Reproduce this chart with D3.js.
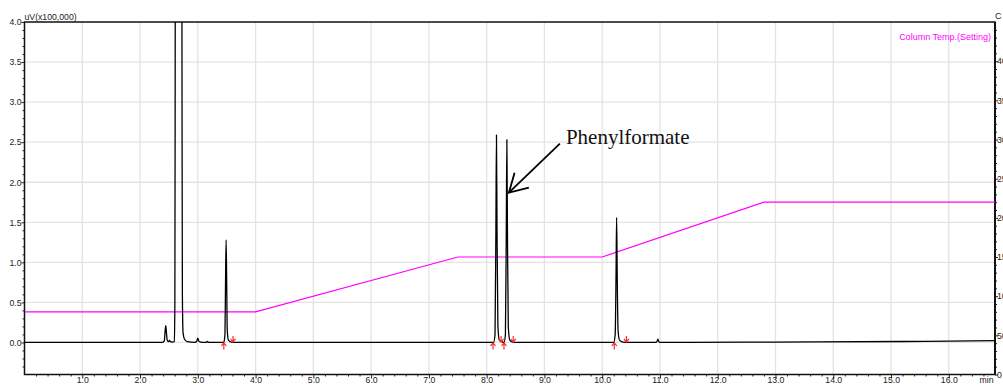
<!DOCTYPE html>
<html>
<head>
<meta charset="utf-8">
<script src="https://cdn.jsdelivr.net/npm/d3@7/dist/d3.min.js"></script>
<style>
  html, body { margin: 0; padding: 0; background: #fff; }
  svg { display: block; font-family: "Liberation Sans", Arial, sans-serif; }
</style>
</head>
<body>
<svg id="chart" width="1003" height="385"></svg>
<script>
// Detector trace: retention time (min) and signal (uV x100,000)
const traceTime = [
  0.00, 1.30, 2.38, 2.42, 2.435, 2.445, 2.455, 2.47, 2.49, 2.51, 2.525, 2.55,
  2.595, 2.603, 2.608, 2.612, 2.67, 2.722, 2.727, 2.733, 2.745, 2.77, 2.82,
  2.95, 2.985, 3.00, 3.015, 3.05, 3.14, 3.165, 3.19,
  3.45, 3.47, 3.48, 3.49, 3.50, 3.51, 3.53, 3.58, 3.65,
  8.12, 8.145, 8.16, 8.17, 8.18, 8.195, 8.22, 8.26,
  8.30, 8.325, 8.34, 8.35, 8.36, 8.375, 8.40, 8.45, 8.55,
  10.20, 10.225, 10.24, 10.25, 10.26, 10.275, 10.30, 10.36, 10.45,
  10.93, 10.95, 10.965, 10.98, 11.00, 11.50, 13.00, 15.20, 16.80
];
const traceSignal = [
  0.000, 0.000, 0.000, 0.020, 0.150, 0.210, 0.140, 0.030, 0.010, 0.025, 0.010, 0.005,
  0.010, 0.500, 3.000, 6.000, 9.000, 6.000, 3.000, 0.600, 0.120, 0.040, 0.010,
  0.000, 0.020, 0.055, 0.020, 0.005, 0.000, 0.012, 0.000,
  0.000, 0.100, 0.750, 1.280, 0.750, 0.150, 0.030, 0.005, 0.000,
  0.000, 0.100, 1.400, 2.590, 1.400, 0.200, 0.030, 0.010,
  0.000, 0.100, 1.400, 2.530, 1.400, 0.200, 0.030, 0.005, 0.000,
  0.000, 0.100, 0.850, 1.560, 0.850, 0.150, 0.030, 0.005, 0.000,
  0.000, 0.015, 0.040, 0.012, 0.000, 0.000, 0.005, 0.012, 0.022
];

// Integration marks (peak start / peak end), min
const peakStarts = [3.45, 8.11, 8.30, 10.21];
const peakEnds = [3.61, 8.25, 8.46, 10.42];

// Column temperature program (setting), deg C
const tempTime = [0.0, 4.0, 7.5, 10.0, 12.8, 16.8];
const tempValue = [80, 80, 150, 150, 220, 220];

// Axis ticks
const timeTicks = [1, 2, 3, 4, 5, 6, 7, 8, 9, 10, 11, 12, 13, 14, 15, 16];
const timeTickLabels = ["1.0", "2.0", "3.0", "4.0", "5.0", "6.0", "7.0", "8.0",
  "9.0", "10.0", "11.0", "12.0", "13.0", "14.0", "15.0", "16.0"];
const signalTicks = [0, 0.5, 1, 1.5, 2, 2.5, 3, 3.5, 4];
const signalTickLabels = ["0.0", "0.5", "1.0", "1.5", "2.0", "2.5", "3.0", "3.5", "4.0"];
const tempTicks = [0, 50, 100, 150, 200, 250, 300, 350, 400];
const tempTickLabels = ["0", "50", "100", "150", "200", "250", "300", "350", "400"];

// Labelled compound
const annotation = { name: "Phenylformate", time: 8.385, signal: 1.87 };

const svg = d3.select("#chart");
const plotLeft = 24.5, plotRight = 995, plotTop = 22, plotBottom = 374.5;

const x = d3.scaleLinear().domain([0, 16.8]).range([plotLeft, plotRight]);
const y = d3.scaleLinear().domain([-0.4, 4.0]).range([plotBottom, plotTop]);
const yT = d3.scaleLinear().domain([0, 450]).range([plotBottom, plotTop]);

svg.append("rect").attr("width", 1003).attr("height", 385).attr("fill", "#fff");

svg.append("defs").append("clipPath").attr("id", "plotClip")
  .append("rect").attr("x", plotLeft).attr("y", plotTop)
  .attr("width", plotRight - plotLeft).attr("height", plotBottom - plotTop);

// Grid
const grid = svg.append("g").attr("stroke", "#e3e3e3").attr("stroke-width", 1.3);
grid.selectAll("line.v").data(timeTicks).join("line")
  .attr("x1", d => x(d)).attr("x2", d => x(d))
  .attr("y1", plotTop).attr("y2", plotBottom);
grid.selectAll("line.h").data(signalTicks.filter(d => d < 4)).join("line")
  .attr("x1", plotLeft).attr("x2", plotRight)
  .attr("y1", d => y(d)).attr("y2", d => y(d));

// Axes
const fontSize = "8.7px";
const styleLabels = g => g.selectAll("text").attr("font-size", fontSize).attr("fill", "#222")
  .style("font-family", "'Liberation Sans', Arial, sans-serif");

const minorTime = d3.range(1, 84).map(i => i * 0.2).filter(t => Math.abs(t - Math.round(t)) > 0.01);
svg.append("g").attr("transform", `translate(0,${plotBottom})`)
  .call(d3.axisBottom(x).tickValues(minorTime).tickSize(2).tickFormat(""))
  .call(g => g.select(".domain").remove());
svg.append("g").attr("transform", `translate(0,${plotBottom})`)
  .call(d3.axisBottom(x).tickValues(timeTicks).tickSize(4).tickPadding(-1.5)
    .tickFormat((d, i) => timeTickLabels[i]))
  .call(g => g.select(".domain").remove())
  .call(styleLabels);

const minorSig = d3.range(-3, 40).map(i => i / 10).filter(v => Math.abs(v * 2 - Math.round(v * 2)) > 0.01);
svg.append("g").attr("transform", `translate(${plotLeft},0)`)
  .call(d3.axisLeft(y).tickValues(minorSig).tickSize(2).tickFormat(""))
  .call(g => g.select(".domain").remove());
svg.append("g").attr("transform", `translate(${plotLeft},0)`)
  .call(d3.axisLeft(y).tickValues(signalTicks).tickSize(3).tickPadding(0)
    .tickFormat((d, i) => signalTickLabels[i]))
  .call(g => g.select(".domain").remove())
  .call(styleLabels);

const minorTemp = d3.range(10, 450, 10).filter(v => v % 50 !== 0);
svg.append("g").attr("transform", `translate(${plotRight},0)`)
  .call(d3.axisRight(yT).tickValues(minorTemp).tickSize(2).tickFormat(""))
  .call(g => g.select(".domain").remove());
svg.append("g").attr("transform", `translate(${plotRight},0)`)
  .call(d3.axisRight(yT).tickValues(tempTicks).tickSize(3).tickPadding(-1)
    .tickFormat((d, i) => tempTickLabels[i]))
  .call(g => g.select(".domain").remove())
  .call(styleLabels);

svg.selectAll(".tick line").attr("stroke", "#222");

// Frame
svg.append("path")
  .attr("d", `M${plotLeft},${plotTop}H${plotRight}V${plotBottom}H${plotLeft}Z`)
  .attr("fill", "none").attr("stroke", "#111").attr("stroke-width", 1.5);
svg.append("line").attr("x1", plotRight).attr("x2", plotRight)
  .attr("y1", plotTop).attr("y2", plotBottom)
  .attr("stroke", "#111").attr("stroke-width", 2);

// Axis titles
svg.append("text").attr("x", plotLeft).attr("y", 19.5).attr("font-size", fontSize)
  .attr("fill", "#222").text("uV(x100,000)");
svg.append("text").attr("x", 993.5).attr("y", 383).attr("font-size", fontSize)
  .attr("text-anchor", "end").attr("fill", "#222").text("min");
svg.append("text").attr("x", 995).attr("y", 19).attr("font-size", "9px")
  .attr("fill", "#222").text("C");

const plot = svg.append("g").attr("clip-path", "url(#plotClip)");

// Temperature program
plot.append("path")
  .datum(tempTime.map((t, i) => [t, tempValue[i]]))
  .attr("fill", "none").attr("stroke", "#ff00ff").attr("stroke-width", 1.2)
  .attr("d", d3.line().x(d => x(d[0])).y(d => yT(d[1])));

svg.append("text").attr("x", 991).attr("y", 39.5).attr("font-size", "9px")
  .attr("text-anchor", "end").attr("fill", "#ff00ff").text("Column Temp.(Setting)");

// Chromatogram
plot.append("path")
  .datum(traceTime.map((t, i) => [t, traceSignal[i]]))
  .attr("fill", "none").attr("stroke", "#000").attr("stroke-width", 1.3)
  .attr("stroke-linejoin", "round")
  .attr("d", d3.line().x(d => x(d[0])).y(d => y(d[1])).curve(d3.curveMonotoneX));

// Integration marks
const red = "#ff2a2a";
const y0 = y(0);
const marks = svg.append("g").attr("stroke", red).attr("stroke-width", 1.2).attr("fill", "none");
peakStarts.forEach(t => {
  const cx = x(t);
  marks.append("path").attr("d",
    `M${cx},${y0 + 0.5}V${y0 + 7}M${cx - 2.5},${y0 + 3.5}L${cx},${y0 + 0.5}L${cx + 2.5},${y0 + 3.5}`);
});
peakEnds.forEach(t => {
  const cx = x(t);
  marks.append("path").attr("d",
    `M${cx},${y0 - 0.5}V${y0 - 6.5}M${cx - 2.5},${y0 - 3.5}L${cx},${y0 - 0.5}L${cx + 2.5},${y0 - 3.5}`);
});

// Compound annotation
const tipX = x(annotation.time), tipY = y(annotation.signal);
const ann = svg.append("g").attr("stroke", "#000").attr("stroke-width", 1.8).attr("fill", "none");
ann.append("line").attr("x1", tipX).attr("y1", tipY).attr("x2", tipX + 51).attr("y2", tipY - 49);
ann.append("path").attr("d",
  `M${tipX + 20},${tipY - 5}L${tipX},${tipY}L${tipX + 5.7},${tipY - 19.8}`);
svg.append("text").attr("x", tipX + 57).attr("y", tipY - 49)
  .style("font-family", "'Liberation Serif', 'Times New Roman', serif")
  .attr("font-size", "21px").attr("fill", "#111").text(annotation.name);
</script>
</body>
</html>
